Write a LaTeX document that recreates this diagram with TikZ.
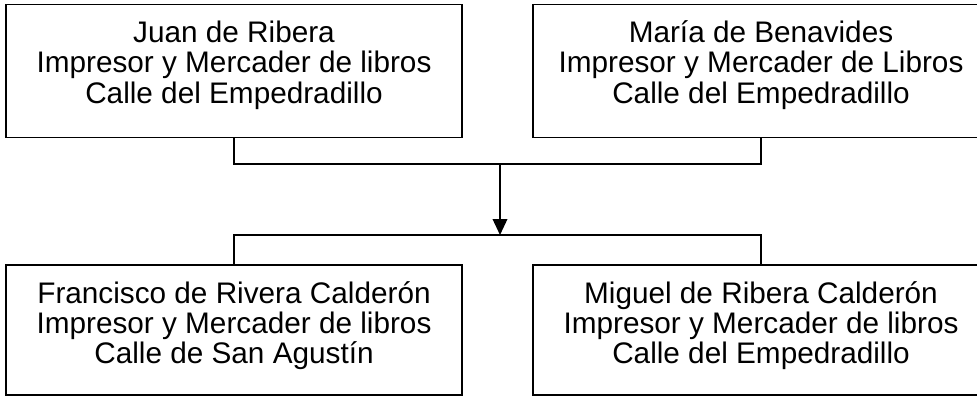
\documentclass[tikz,border=0pt]{standalone}
\usepackage{fontspec}
\setmainfont{Liberation Sans}
\usepackage{tikz}
\usetikzlibrary{positioning}
\usetikzlibrary{arrows.meta}
\tikzset{
  box/.style={shape=rectangle,draw=black,line width=1.1pt,minimum width=342pt,minimum height=99.75pt,inner sep=0},
  lowbox/.style={box,minimum height=97.5pt},
  txt/.style={align=center,inner sep=0,font=\fontsize{22.3}{22.8}\selectfont},
  link/.style={draw=black,line width=1.1pt}
}

\begin{document}
\begin{tikzpicture}[x=0.75pt,y=-0.75pt]
      \clip (0,0) rectangle (977,397);
      \node[box] (jr) at (234,71) {};
      \node[box] (mb) at (761,71) {};
      \node[lowbox] (fr) at (234,330) {};
      \node[lowbox] (mr) at (761,330) {};
      \node[txt,below=12.5pt of jr.north] (jrt) {Juan de Ribera\\Impresor y Mercader de libros\\Calle del Empedradillo};
      \node[txt,below=12.5pt of mb.north] (mbt) {María de Benavides\\Impresor y Mercader de Libros\\Calle del Empedradillo};
      \node[txt,below=12.5pt of fr.north] (frt) {Francisco de Rivera Calderón\\Impresor y Mercader de libros\\Calle de San Agustín};
      \node[txt,below=12.5pt of mr.north] (mrt) {Miguel de Ribera Calderón\\Impresor y Mercader de libros\\Calle del Empedradillo};
      \coordinate (up) at (500,164);
      \coordinate (down) at (500,235);
      \begin{scope}
        \draw[link] (jr.south) |- (up) -| (mb.south);
        \draw[link,-{Triangle[length=12pt,width=11pt]}] (up) -- (down);
        \draw[link] (fr.north) |- (down) -| (mr.north);
      \end{scope}
    \end{tikzpicture}
\end{document}
